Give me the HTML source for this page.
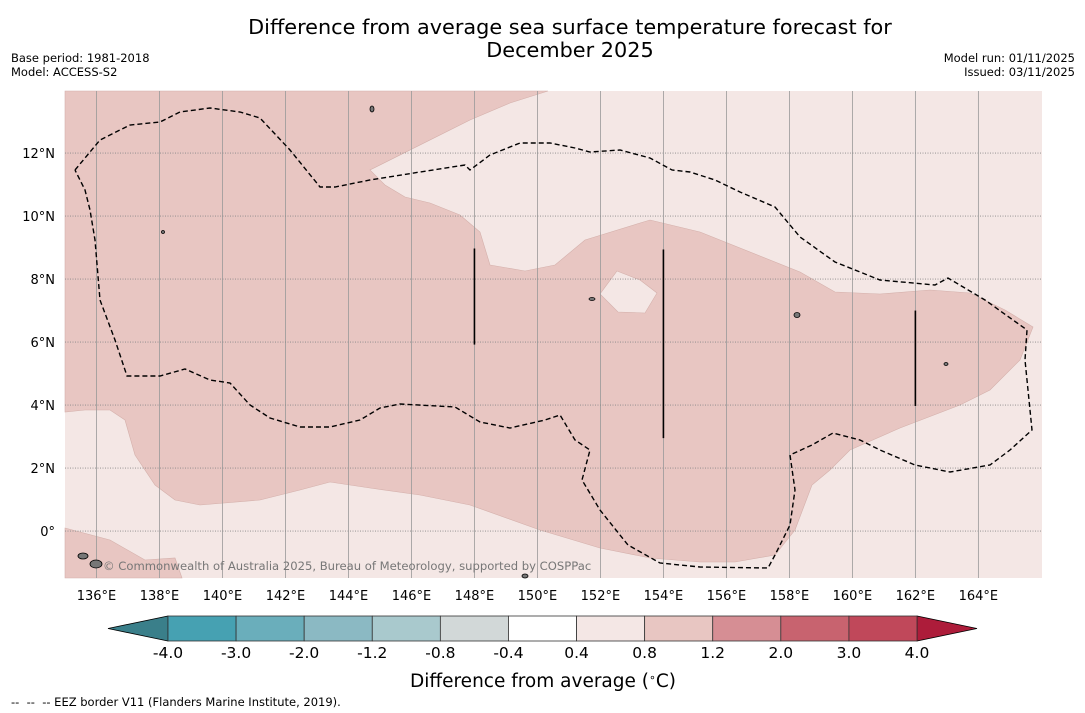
<!DOCTYPE html>
<html><head><meta charset="utf-8"><style>
body{margin:0;background:#fff;width:1085px;height:713px;overflow:hidden;font-family:"DejaVu Sans","Liberation Sans",sans-serif}
svg{display:block}
</style></head><body>
<svg id="c" width="1085" height="713" xmlns="http://www.w3.org/2000/svg" font-family="DejaVu Sans, Liberation Sans, sans-serif">
<text x="570" y="34" text-anchor="middle" font-size="20.8">Difference from average sea surface temperature forecast for</text>
<text x="570" y="57" text-anchor="middle" font-size="20.8">December 2025</text>
<text x="11" y="62" font-size="11.5">Base period: 1981-2018</text>
<text x="11" y="76" font-size="11.5">Model: ACCESS-S2</text>
<text x="1075" y="62" font-size="11.5" text-anchor="end">Model run: 01/11/2025</text>
<text x="1075" y="76" font-size="11.5" text-anchor="end">Issued: 03/11/2025</text>
<g id="map"></g>
<g id="axes"></g>
<g id="cbar"></g>
<text x="543" y="687" text-anchor="middle" font-size="18.5">Difference from average (<tspan baseline-shift="super" font-size="11">∘</tspan>C)</text>
<text x="11" y="706" font-size="11.5">-- &#160;-- &#160;-- EEZ border V11 (Flanders Marine Institute, 2019).</text>
</svg>
<script>
const lonTicks=[136,138,140,142,144,146,148,150,152,154,156,158,160,162,164];
const latTicks=[0,2,4,6,8,10,12];
const cbarLevels=[-4.0,-3.0,-2.0,-1.2,-0.8,-0.4,0.4,0.8,1.2,2.0,3.0,4.0];
const cbarColors=["#46a1b2","#6aaebb","#8bb9c3","#a9c9cd","#d2d8d8","#ffffff","#f4e7e5","#e8c6c2","#d68e94","#c8636f","#c0485a"];
const lon0=135,lon1=166.02,lat0=-1.49,lat1=13.97;
const X0=65,X1=1042,Y0=91,Y1=578;
const px=lon=>X0+(lon-lon0)/(lon1-lon0)*(X1-X0);
const py=lat=>Y1-(lat-lat0)/(lat1-lat0)*(Y1-Y0);
const ns="http://www.w3.org/2000/svg";
function mk(t,a,p){const e=document.createElementNS(ns,t);for(const k in a)e.setAttribute(k,a[k]);p.appendChild(e);return e;}
const warmRegion=[[65,91],[548,91],[510,103],[470,120],[370,170],[385,185],[405,197],[430,203],[460,215],[480,232],[490,265],[525,271],[555,265],[585,240],[650,220],[700,232],[760,256],[800,272],[835,292],[880,294],[930,290],[970,293],[1005,310],[1033,327],[1020,360],[990,390],[960,405],[900,428],[850,450],[830,470],[812,485],[795,530],[775,555],[735,562],[700,562],[650,558],[600,548],[540,530],[470,505],[420,495],[370,488],[330,482],[300,490],[260,500],[200,505],[175,500],[155,485],[135,455],[125,420],[110,410],[85,410],[65,412]];
const warmHole=[[617,271],[640,280],[657,293],[645,313],[618,312],[600,294]];
const warmSW=[[65,528],[110,540],[145,560],[175,558],[182,578],[65,578]];
const eez=[[75,170],[100,140],[130,125],[160,122],[180,112],[210,108],[240,112],[260,118],[290,150],[320,187],[335,187],[370,180],[420,172],[465,165],[470,170],[490,155],[520,143],[550,143],[575,148],[590,152],[620,150],[650,158],[672,170],[690,172],[715,180],[740,192],[775,207],[800,237],[835,262],[880,280],[935,285],[948,278],[985,300],[1027,330],[1025,360],[1032,430],[1010,450],[990,465],[950,472],[915,465],[880,450],[860,440],[833,433],[812,445],[790,455],[795,490],[790,525],[775,555],[768,568],[700,567],[660,563],[628,545],[600,510],[582,480],[590,450],[575,440],[560,415],[545,420],[510,428],[480,422],[455,407],[400,404],[380,408],[360,420],[330,427],[300,427],[270,418],[250,405],[230,383],[210,380],[185,369],[160,376],[127,376],[115,340],[100,300],[95,240],[90,210],[85,190],[75,170]];
const borderLines=[[148,8.97,5.92],[154,8.94,2.95],[162,7.0,3.97]];
const pts=a=>a.map(p=>p.join(',')).join(' ');
const map=document.getElementById('map');
let e=mk('rect',{x:X0,y:Y0,width:X1-X0,height:Y1-Y0,fill:'#f4e7e5'},map);

e=mk('path',{d:'M'+pts(warmRegion)+'Z M'+pts(warmHole)+'Z','fill-rule':'evenodd',fill:'#e8c6c2',stroke:'#d4b0ab','stroke-width':0.6},map);

e=mk('polygon',{points:pts(warmSW),fill:'#e8c6c2',stroke:'#d4b0ab','stroke-width':0.6},map);

lonTicks.forEach(l=>{e=mk('line',{x1:px(l),x2:px(l),y1:Y0,y2:Y1,stroke:'#999','stroke-width':0.8},map);
});
latTicks.forEach(l=>{e=mk('line',{x1:X0,x2:X1,y1:py(l),y2:py(l),stroke:'#888','stroke-width':0.8,'stroke-dasharray':'1,1.5'},map);
});
e=mk('polyline',{points:pts(eez),fill:'none',stroke:'#000','stroke-width':1.4,'stroke-dasharray':'5,3'},map);

borderLines.forEach(b=>{e=mk('line',{x1:px(b[0]),x2:px(b[0]),y1:py(b[1]),y2:py(b[2]),stroke:'#000','stroke-width':1.6},map);
});
const islands=[[83,556,5,3],[96,564,6,4],[372,109,2,3],[797,315,3,2.5],[163,232,1.5,1.5],[592,299,3,1.5],[525,576,3,2],[946,364,2,1.5]];
islands.forEach(i=>{e=mk('ellipse',{cx:i[0],cy:i[1],rx:i[2],ry:i[3],fill:'#777',stroke:'#000','stroke-width':0.8},map);
});
e=mk('text',{x:103,y:570,'font-size':11.6,fill:'#777'},map);e.textContent='© Commonwealth of Australia 2025, Bureau of Meteorology, supported by COSPPac';

const axes=document.getElementById('axes');
lonTicks.forEach(l=>{e=mk('text',{x:px(l),y:600,'font-size':13,'text-anchor':'middle'},axes);e.textContent=l+'°E';
});
latTicks.forEach(l=>{e=mk('text',{x:55,y:py(l)+5,'font-size':13,'text-anchor':'end'},axes);e.textContent=l===0?'0°':l+'°N';
});
const cb=document.getElementById('cbar');
const CX0=168,CX1=917,CY=616,CH=25;
const cw=(CX1-CX0)/(cbarLevels.length-1);
e=mk('polygon',{points:`${CX0},${CY} ${CX0},${CY+CH} 108,${CY+CH/2}`,fill:'#3a7f8a',stroke:'#000','stroke-width':0.8},cb);

e=mk('polygon',{points:`${CX1},${CY} ${CX1},${CY+CH} 977,${CY+CH/2}`,fill:'#ad1c3a',stroke:'#000','stroke-width':0.8},cb);

cbarColors.forEach((c,i)=>{e=mk('rect',{x:CX0+i*cw,y:CY,width:cw,height:CH,fill:c,stroke:'#333','stroke-width':0.8},cb);
});
cbarLevels.forEach((v,i)=>{e=mk('text',{x:CX0+i*cw,y:658,'font-size':15.5,'text-anchor':'middle'},cb);e.textContent=v.toFixed(1);
});
</script>
</body></html>
